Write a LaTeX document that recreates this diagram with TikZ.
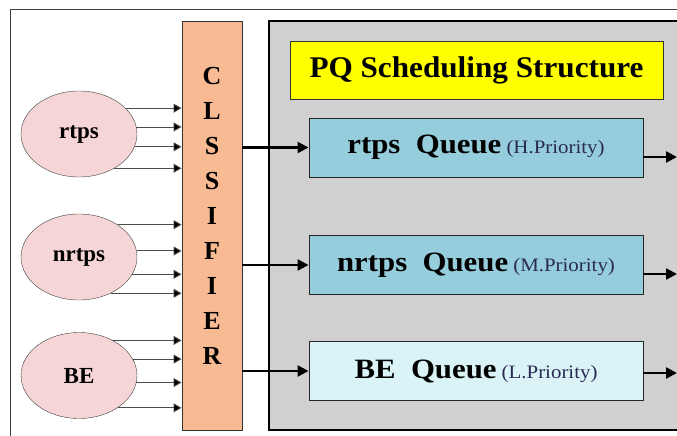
\documentclass[tikz,border=0pt]{standalone}
\usepackage{fontspec}
\setmainfont{Liberation Serif}
\usetikzlibrary{shapes.geometric,arrows.meta}

\definecolor{classorange}{HTML}{F8BA92}
\definecolor{pqgray}{HTML}{D0D0D0}
\definecolor{titleyellow}{HTML}{FFFF00}
\definecolor{highblue}{HTML}{95CDDC}
\definecolor{lowblue}{HTML}{DAF3F7}
\definecolor{srcpink}{HTML}{F5D5D5}
\definecolor{prionavy}{HTML}{2A2A55}

\newcommand{\queuetext}[2]{\scalebox{1.1}[1]{\bfseries\fontsize{28}{30}\selectfont #1\ \ Queue\,{\mdseries\fontsize{19}{21}\selectfont\color{prionavy}(#2.Priority)}}}

\tikzset{
    srcnode/.style={draw=black!75, ellipse, fill=srcpink, minimum width=116pt, minimum height=86pt, inner sep=0pt, font=\bfseries\fontsize{23}{26}\selectfont},
    queuebox/.style={draw=black!85, line width=0.9pt, minimum width=334pt, minimum height=59pt, inner sep=0pt},
    inarrow/.style={draw=black!70, line width=0.9pt, -{Triangle[length=8pt,width=9pt,fill=black]}},
    bigarrow/.style={line width=2.4pt, -{Triangle[length=11pt,width=11pt]}},
}

\begin{document}
\begin{tikzpicture}[x=1pt,y=-1pt]
        \useasboundingbox (0,0) rectangle (677,436);
        \clip (0,0) rectangle (677,436);
        \fill[white] (0,0) rectangle (677,436);
        \renewcommand{\arraystretch}{1} % letter spacing in the classifier
        % Frame
        \draw[black!75, line width=0.9pt] (10,9) rectangle (700,460);
        % Blocks
        \node[draw, line width=2.4pt, fill=pqgray, minimum width=421pt, minimum height=409pt] (pqbox) at (479.5,225.5) {};
        \node[draw=black!80, line width=0.9pt, fill=titleyellow, minimum width=373pt, minimum height=58pt] (title) at (476.5,70) {
            \scalebox{1.04}[1]{\bfseries\fontsize{30}{34}\selectfont PQ Scheduling Structure}
        };
        \node[draw=black!80, line width=0.9pt, fill=classorange, minimum width=60pt, minimum height=409pt, inner sep=0pt] (classifier) at (212,225.5) {
            \bfseries\fontsize{26}{35}\selectfont
            \begin{tabular}{c}
                C\\ L\\ S\\ S\\ I\\ F\\ I\\ E\\ R\\[17pt]
            \end{tabular}
        };
        \node[srcnode] (rtps) at (79,134) {rtps};
        \node[srcnode] (nrtps) at (79,257) {nrtps};
        \node[srcnode] (be) at (79,375.5) {BE};
        \node[queuebox, fill=highblue] (rtpsq) at (476,147.5) {\queuetext{rtps}{H}};
        \node[queuebox, fill=highblue] (nrtpsq) at (476,265) {\queuetext{nrtps}{M}};
        \node[queuebox, fill=lowblue] (beq) at (476,371) {\queuetext{BE}{L}};
        \coordinate (out1) at (677,157);
        \coordinate (out2) at (677,274);
        \coordinate (out3) at (677,373);

        % Arrows
        \foreach \a in {29,7,-13,-44} \draw[inarrow] (rtps.\a) -- (rtps.\a -| classifier.west);
        \foreach \a in {40,6,-18,-49} \draw[inarrow] (nrtps.\a) -- (nrtps.\a -| classifier.west);
        \foreach \a in {46,17,-7,-40} \draw[inarrow] (be.\a) -- (be.\a -| classifier.west);
        \draw[bigarrow] (classifier.east |- rtpsq) -- (rtpsq);
        \draw[bigarrow] (classifier.east |- nrtpsq) -- (nrtpsq);
        \draw[bigarrow] (classifier.east |- beq) -- (beq);
        \draw[bigarrow] (rtpsq.east |- out1) -- (out1);
        \draw[bigarrow] (nrtpsq.east |- out2) -- (out2);
        \draw[bigarrow] (beq.east |- out3) -- (out3);

    \end{tikzpicture}
\end{document}
